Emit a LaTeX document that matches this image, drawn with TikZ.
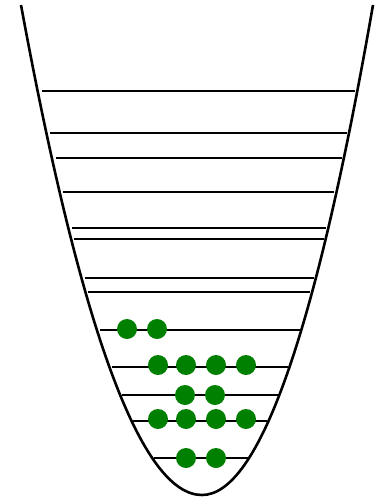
\documentclass[tikz,border=0pt]{standalone}
\usepackage{xcolor}
\usepackage{tikz}
\definecolor{ballgreen}{HTML}{008000}

\begin{document}
\begin{tikzpicture}[
  x=1pt, y=-1pt,
  well/.style={line width=2.6pt, line join=round},
  level/.style={line width=2.2pt},
  ball/.style={circle, fill=ballgreen, inner sep=0pt, minimum size=20pt},
]
  \useasboundingbox (0,0) rectangle (380,499);

  % potential well
  \draw[well] (21,5) .. controls (81.33,332.33) and (141.67,495) .. (202,495)
                     .. controls (259,495) and (316,332.33) .. (373,5);

  % energy levels
  \foreach \y in {91,133,158,192,228,239,278,292,330,367,395,421,458}
    \draw[level] ({202-7.97*sqrt(495-\y)},\y) -- ({202+7.6*sqrt(495-\y)},\y);

  % occupied states
  \foreach \x/\y [count=\i] in {127/329,157/329,
      158/365,186/365,216/365,246/365,
      185/395,215/395,
      158/419,186/419,216/419,246/419,
      186/458,216/458}
    \node[ball] (b\i) at (\x,\y) {};
\end{tikzpicture}
\end{document}
